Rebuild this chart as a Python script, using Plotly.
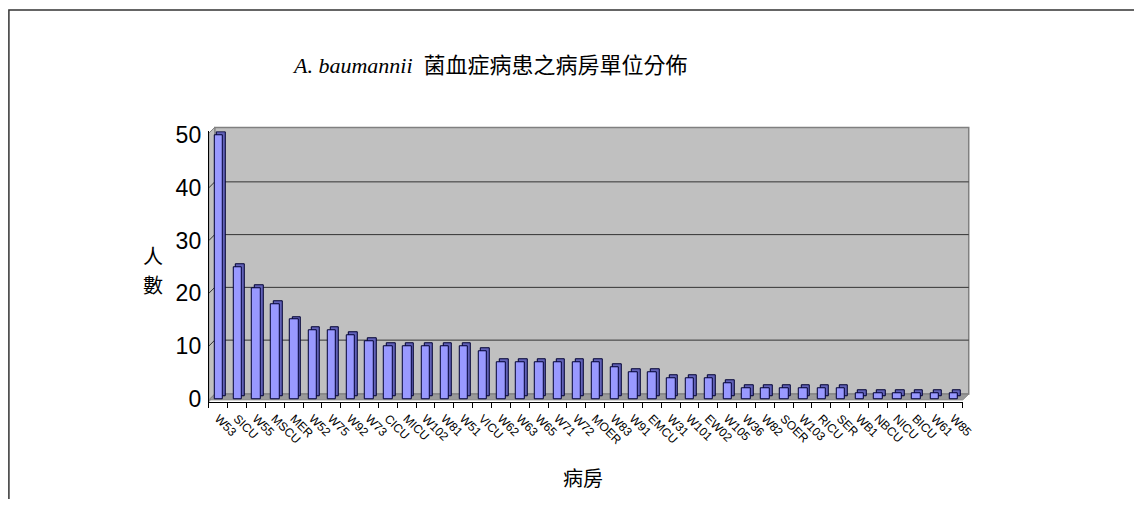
import plotly.graph_objects as go

wards = ["W53", "SICU", "W55", "MSCU", "MER", "W52", "W75", "W92", "W73", "CICU",
         "MICU", "W102", "W81", "W51", "VICU", "W62", "W63", "W65", "W71", "W72",
         "MOER", "W83", "W91", "EMCU", "W31", "W101", "EW02", "W105", "W36", "W82",
         "SOER", "W103", "RICU", "SER", "WB1", "NBCU", "NICU", "BICU", "W61", "W85"]
patients = [50, 25, 21, 18, 15, 13, 13, 12, 11, 10,
            10, 10, 10, 10, 9, 7, 7, 7, 7, 7,
            7, 6, 5, 5, 4, 4, 4, 3, 2, 2,
            2, 2, 2, 2, 1, 1, 1, 1, 1, 1]
y_ticks = [0, 10, 20, 30, 40, 50]
grid_values = [10, 20, 30, 40]

W, H = 1145, 509
def px(x): return x / W
def py(y): return 1 - y / H

# plot geometry (pixels)
X0, X1 = 211, 973          # front plane
DX, DY = 6, 6              # depth offset
Y_TOP, Y_BOT = 127, 408
PX_PER_UNIT = 5.48
ZERO_PX = 405
ymin = -(Y_BOT - ZERO_PX) / PX_PER_UNIT
ymax = (ZERO_PX - Y_TOP) / PX_PER_UNIT
depth_units = 3 / PX_PER_UNIT

fig = go.Figure()

# 3D side/top of bars
fig.add_trace(go.Bar(
    x=wards, y=patients, base=[depth_units] * len(patients),
    width=0.45, offset=-0.05,
    marker=dict(color="#6262B8", line=dict(color="#000033", width=1)),
    hoverinfo="skip", showlegend=False,
))
# front faces
fig.add_trace(go.Bar(
    x=wards, y=patients,
    width=0.45, offset=-0.2,
    marker=dict(color="#9999FF", line=dict(color="#000033", width=1)),
    showlegend=False,
))

shapes = []
# back wall
shapes.append(dict(type="rect", xref="paper", yref="paper",
                   x0=px(X0 + DX), x1=px(X1 + DX), y0=py(400), y1=py(123),
                   fillcolor="#C0C0C0", line=dict(color="#808080", width=1.5), layer="below"))
# left wall
shapes.append(dict(type="path", xref="paper", yref="paper",
                   path=f"M {px(X0)},{py(Y_BOT)} L {px(X0)},{py(129)} L {px(X0+DX)},{py(123)} L {px(X0+DX)},{py(400)} Z",
                   fillcolor="#C0C0C0", line=dict(color="#808080", width=1), layer="below"))
# floor
shapes.append(dict(type="path", xref="paper", yref="paper",
                   path=f"M {px(X0)},{py(406)} L {px(X1)},{py(406)} L {px(X1+DX)},{py(400)} L {px(X0+DX)},{py(400)} Z",
                   fillcolor="#9A9A9A", line=dict(color="#808080", width=1), layer="below"))
# gridlines on back wall and left wall stubs
for v in grid_values:
    shapes.append(dict(type="line", xref="paper", yref="y", ysizemode="pixel", yanchor=v,
                       x0=px(X0 + DX), x1=px(X1 + DX), y0=DY, y1=DY,
                       line=dict(color="#333333", width=1), layer="below"))
    shapes.append(dict(type="line", xref="paper", yref="y", ysizemode="pixel", yanchor=v,
                       x0=px(X0), x1=px(X0 + DX), y0=0, y1=DY,
                       line=dict(color="#333333", width=1), layer="below"))
# outer frame
shapes.append(dict(type="path", xref="paper", yref="paper",
                   path=f"M {px(9)},{py(509)} L {px(9)},{py(1)} L {px(1146)},{py(1)}",
                   line=dict(color="#333333", width=1.5)))

annotations = [
    dict(text="<i>A. baumannii</i>  菌血症病患之病房單位分佈", xref="paper", yref="paper",
         x=px(495), y=py(59), showarrow=False, xanchor="center", yanchor="middle",
         font=dict(family="Liberation Serif, Noto Sans CJK TC", size=22, color="#000000")),
    dict(text="人", xref="paper", yref="paper", x=px(155), y=py(256), showarrow=False,
         xanchor="center", yanchor="middle",
         font=dict(family="Noto Sans CJK TC", size=20, color="#000000")),
    dict(text="數", xref="paper", yref="paper", x=px(155), y=py(286), showarrow=False,
         xanchor="center", yanchor="middle",
         font=dict(family="Noto Sans CJK TC", size=20, color="#000000")),
    dict(text="病房", xref="paper", yref="paper", x=px(589), y=py(487), showarrow=False,
         xanchor="center", yanchor="middle",
         font=dict(family="Noto Sans CJK TC", size=20, color="#000000")),
]

fig.update_layout(
    width=W, height=H,
    margin=dict(l=0, r=0, t=0, b=0),
    paper_bgcolor="white", plot_bgcolor="rgba(0,0,0,0)",
    barmode="overlay", bargap=0,
    shapes=shapes, annotations=annotations,
    xaxis=dict(domain=[px(X0), px(X1)], range=[-0.5, len(wards) - 0.5],
               type="category", tickangle=45, tickson="boundaries",
               ticks="outside", ticklen=5, tickcolor="#000000",
               showline=True, linecolor="#000000", linewidth=1,
               showgrid=False, zeroline=False, ticklabelstandoff=4,
               tickfont=dict(family="Liberation Sans", size=12, color="#000000")),
    yaxis=dict(domain=[py(Y_BOT), py(Y_TOP)], range=[ymin, ymax],
               tickvals=y_ticks, ticks="", showline=True, linecolor="#000000", linewidth=1,
               showgrid=False, zeroline=False, ticklabelstandoff=2,
               tickfont=dict(family="Liberation Sans", size=23, color="#000000")),
)

fig.write_html("out.html")
